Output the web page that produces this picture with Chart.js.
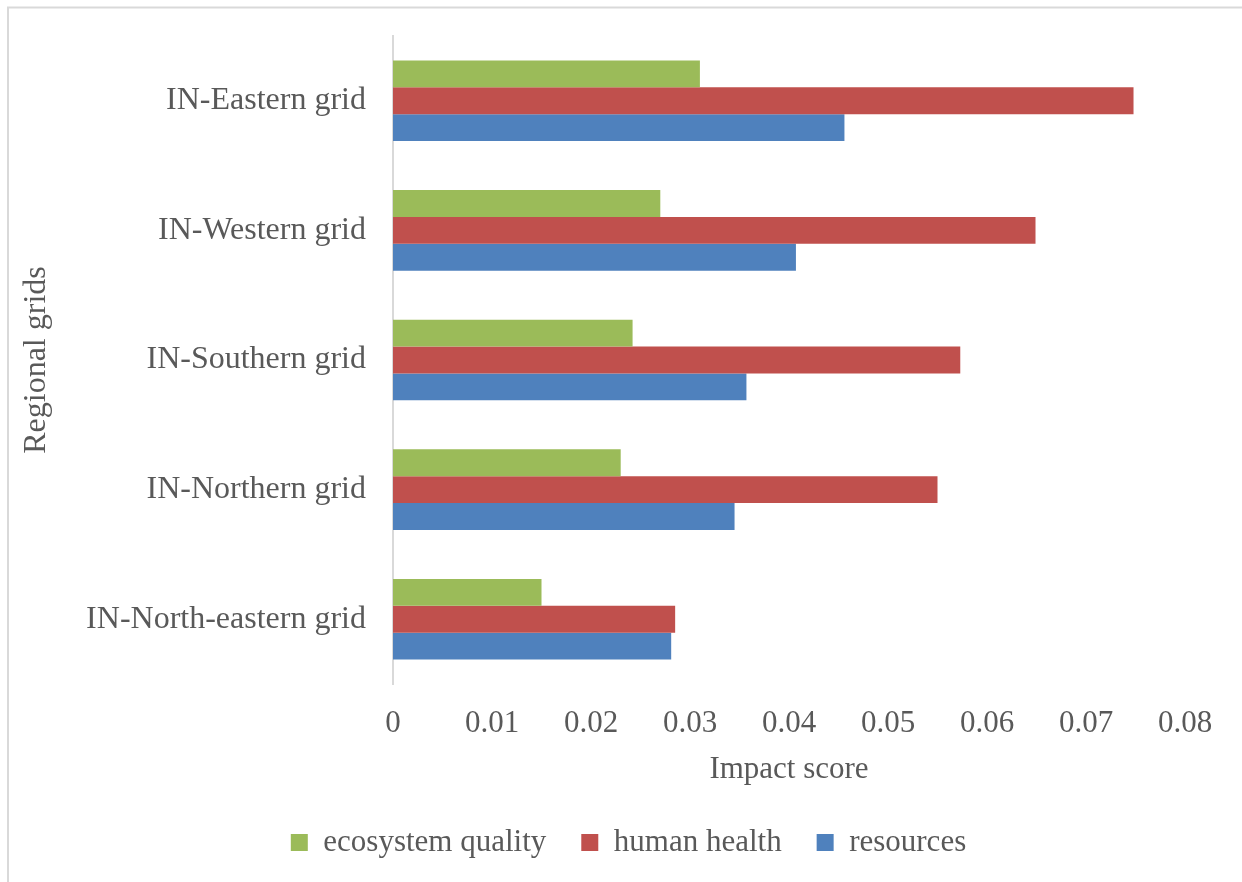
<!DOCTYPE html>
<html>
<head>
<meta charset="utf-8">
<script src="https://cdn.jsdelivr.net/npm/chart.js@4/dist/chart.umd.min.js"></script>
<style>
  html, body { margin: 0; padding: 0; background: #ffffff; }
  #wrap { width: 1242px; height: 882px; position: relative; }
  canvas { display: block; }
</style>
</head>
<body>
<div id="wrap"><canvas id="c" width="1242" height="882"></canvas></div>
<script>
const categories = ['IN-Eastern grid', 'IN-Western grid', 'IN-Southern grid', 'IN-Northern grid', 'IN-North-eastern grid'];
const ecosystemQuality = [0.0310, 0.0270, 0.0242, 0.0230, 0.0150];
const humanHealth = [0.0748, 0.0649, 0.0573, 0.0550, 0.0285];
const resources = [0.0456, 0.0407, 0.0357, 0.0345, 0.0281];
const xTickLabels = ['0', '0.01', '0.02', '0.03', '0.04', '0.05', '0.06', '0.07', '0.08'];
const seriesNames = ['ecosystem quality', 'human health', 'resources'];

const TEXT = '#595959';
const SERIF = "'Liberation Serif', 'Times New Roman', serif";

const framePlugin = {
  id: 'frame',
  afterLayout(chart) {
    // shift legend band so its items sit where the reference has them
    if (chart.legend) { chart.legend.left = 72; }
  },
  beforeDraw(chart) {
    const ctx = chart.ctx;
    ctx.save();
    ctx.fillStyle = '#ffffff';
    ctx.fillRect(0, 0, chart.width, chart.height);
    ctx.strokeStyle = '#d9d9d9';
    ctx.lineWidth = 2;
    ctx.beginPath();
    ctx.moveTo(7, 7.5);
    ctx.lineTo(chart.width, 7.5);
    ctx.moveTo(8, 7);
    ctx.lineTo(8, chart.height);
    ctx.stroke();
    ctx.restore();
  }
};

new Chart(document.getElementById('c'), {
  type: 'bar',
  data: {
    labels: categories,
    datasets: [
      { label: seriesNames[0], data: ecosystemQuality, backgroundColor: '#9BBB59' },
      { label: seriesNames[1], data: humanHealth, backgroundColor: '#C0504D' },
      { label: seriesNames[2], data: resources, backgroundColor: '#4F81BD' }
    ]
  },
  options: {
    indexAxis: 'y',
    responsive: false,
    animation: false,
    devicePixelRatio: 1,
    datasets: { bar: { categoryPercentage: 0.622, barPercentage: 1.0 } },
    layout: { padding: { top: 36, right: 57, left: 0, bottom: 14 } },
    plugins: {
      legend: {
        position: 'bottom',
        labels: {
          boxWidth: 17,
          boxHeight: 17,
          padding: 35,
          color: TEXT,
          font: { family: SERIF, size: 31 }
        }
      },
      tooltip: { enabled: false }
    },
    scales: {
      x: {
        min: 0,
        max: 0.08,
        grid: { display: false, drawTicks: false },
        border: { display: false },
        ticks: {
          stepSize: 0.01,
          padding: 21,
          color: TEXT,
          font: { family: SERIF, size: 31 },
          maxRotation: 0,
          callback: (v, i) => xTickLabels[i]
        },
        title: {
          display: true,
          text: 'Impact score',
          color: TEXT,
          font: { family: SERIF, size: 31 },
          padding: { top: 0, bottom: 4 }
        },
        afterFit(scale) { scale.height = 108; }
      },
      y: {
        grid: { display: false, drawTicks: false },
        border: { display: true, color: '#d9d9d9', width: 2 },
        ticks: {
          padding: 27,
          color: TEXT,
          font: { family: SERIF, size: 32 }
        },
        title: {
          display: true,
          text: 'Regional grids',
          color: TEXT,
          font: { family: SERIF, size: 32 },
          padding: { top: 17, bottom: 0 }
        },
        afterFit(scale) {
          scale.width = 393;
          scale.paddingTop = 0;
          scale.paddingBottom = 0;
        }
      }
    }
  },
  plugins: [framePlugin]
});
</script>
</body>
</html>
